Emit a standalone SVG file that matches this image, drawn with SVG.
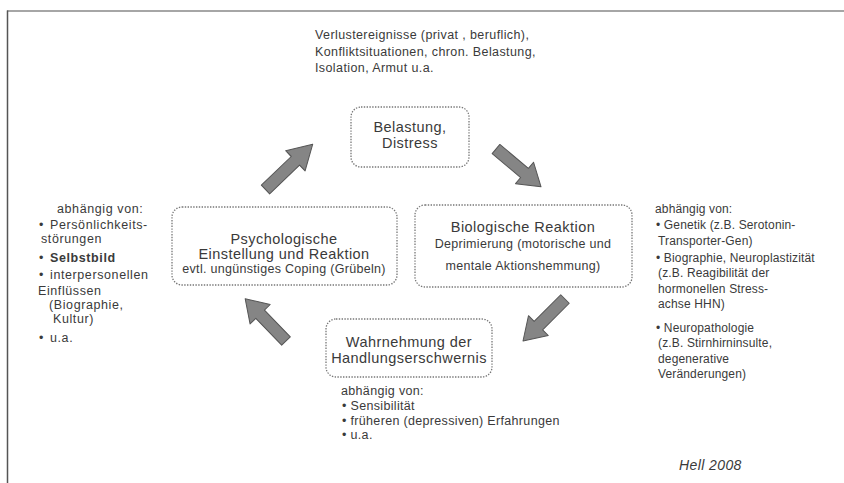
<svg xmlns="http://www.w3.org/2000/svg" width="844" height="483" viewBox="0 0 844 483">
<style>
text{font-family:"Liberation Sans",Arial,sans-serif;fill:#3a3a3a}
.t{font-size:12.5px;letter-spacing:0.4px}
.l{font-size:12.5px;letter-spacing:0.6px}
.r{font-size:12px;letter-spacing:0.15px}
.u{font-size:12.5px;letter-spacing:0.33px}
.b{font-size:14.5px;letter-spacing:0.45px}
.m{font-size:12.5px;letter-spacing:0.3px}
.box{fill:#fff;stroke:#777;stroke-width:1.3;stroke-dasharray:1.4 1.4}
.arr{fill:#858585;stroke:#555;stroke-width:1;stroke-linejoin:round}
</style>
<defs>
<path id="ar" d="M0,-6 L38,-6 L38,-14 L60,0 L38,14 L38,6 L0,6 Z"/>
</defs>
<rect width="844" height="483" fill="#fff"/>
<line x1="7" y1="11" x2="844" y2="11" stroke="#888" stroke-width="1.5"/>
<line x1="7.5" y1="10.5" x2="7.5" y2="483" stroke="#555" stroke-width="1.5"/>

<g id="top-text" class="t">
<text x="315" y="39">Verlustereignisse (privat , beruflich),</text>
<text x="315" y="56">Konfliktsituationen, chron. Belastung,</text>
<text x="315" y="72">Isolation, Armut u.a.</text>
</g>

<g id="connectors">
<use href="#ar" class="arr" transform="translate(265.5,189.5) rotate(-43.8) scale(1.09,1)"/>
<use href="#ar" class="arr" transform="translate(496,149) rotate(40) scale(0.98,1)"/>
<use href="#ar" class="arr" transform="translate(565,299) rotate(135) scale(0.99,1)"/>
<use href="#ar" class="arr" transform="translate(286,341) rotate(-134) scale(0.98,1)"/>
</g>

<g id="belastung">
<rect class="box" x="351" y="107" width="118" height="60" rx="10"/>
<text class="b" x="410" y="132" text-anchor="middle">Belastung,</text>
<text class="b" x="410" y="148" text-anchor="middle">Distress</text>
</g>

<g id="psychologisch">
<rect class="box" x="172" y="207" width="225" height="78" rx="10"/>
<text class="b" x="284" y="244" text-anchor="middle">Psychologische</text>
<text class="b" x="284" y="258.5" text-anchor="middle">Einstellung und Reaktion</text>
<text class="m" x="284" y="273" text-anchor="middle">evtl. ungünstiges Coping (Grübeln)</text>
</g>

<g id="biologisch">
<rect class="box" x="415" y="205" width="217" height="82" rx="10"/>
<text class="b" x="523" y="232" text-anchor="middle">Biologische Reaktion</text>
<text class="m" x="523" y="248" text-anchor="middle">Deprimierung (motorische und</text>
<text class="m" x="523" y="270" text-anchor="middle">mentale Aktionshemmung)</text>
</g>

<g id="wahrnehmung">
<rect class="box" x="326" y="319" width="166" height="58" rx="10"/>
<text class="b" x="409" y="347" text-anchor="middle">Wahrnehmung der</text>
<text class="b" x="409" y="363" text-anchor="middle">Handlungserschwernis</text>
</g>

<g id="left-text" class="l">
<text x="57" y="213">abhängig von:</text>
<text x="39" y="229">•</text><text x="50" y="229">Persönlichkeits-</text>
<text x="41" y="243">störungen</text>
<text x="39" y="262">•</text><text x="50" y="262" font-weight="bold">Selbstbild</text>
<text x="39" y="279">•</text><text x="50" y="279">interpersonellen</text>
<text x="38" y="295">Einflüssen</text>
<text x="49" y="309">(Biographie,</text>
<text x="53" y="323">Kultur)</text>
<text x="39" y="342">•</text><text x="50" y="342">u.a.</text>
</g>

<g id="right-text" class="r">
<text x="655" y="213">abhängig von:</text>
<text x="656" y="229">• Genetik (z.B. Serotonin-</text>
<text x="658" y="245">Transporter-Gen)</text>
<text x="656" y="262">• Biographie, Neuroplastizität</text>
<text x="658" y="277">(z.B. Reagibilität der</text>
<text x="658" y="293">hormonellen Stress-</text>
<text x="658" y="308">achse HHN)</text>
<text x="656" y="332">• Neuropathologie</text>
<text x="658" y="347">(z.B. Stirnhirninsulte,</text>
<text x="658" y="363">degenerative</text>
<text x="658" y="378">Veränderungen)</text>
</g>

<g id="bottom-text" class="u">
<text x="341" y="395">abhängig von:</text>
<text x="342" y="410">• Sensibilität</text>
<text x="342" y="425">• früheren (depressiven) Erfahrungen</text>
<text x="342" y="439">• u.a.</text>
</g>

<g id="credit">
<text x="679" y="470" font-size="14" letter-spacing="0.4" font-style="italic">Hell 2008</text>
</g>
</svg>
